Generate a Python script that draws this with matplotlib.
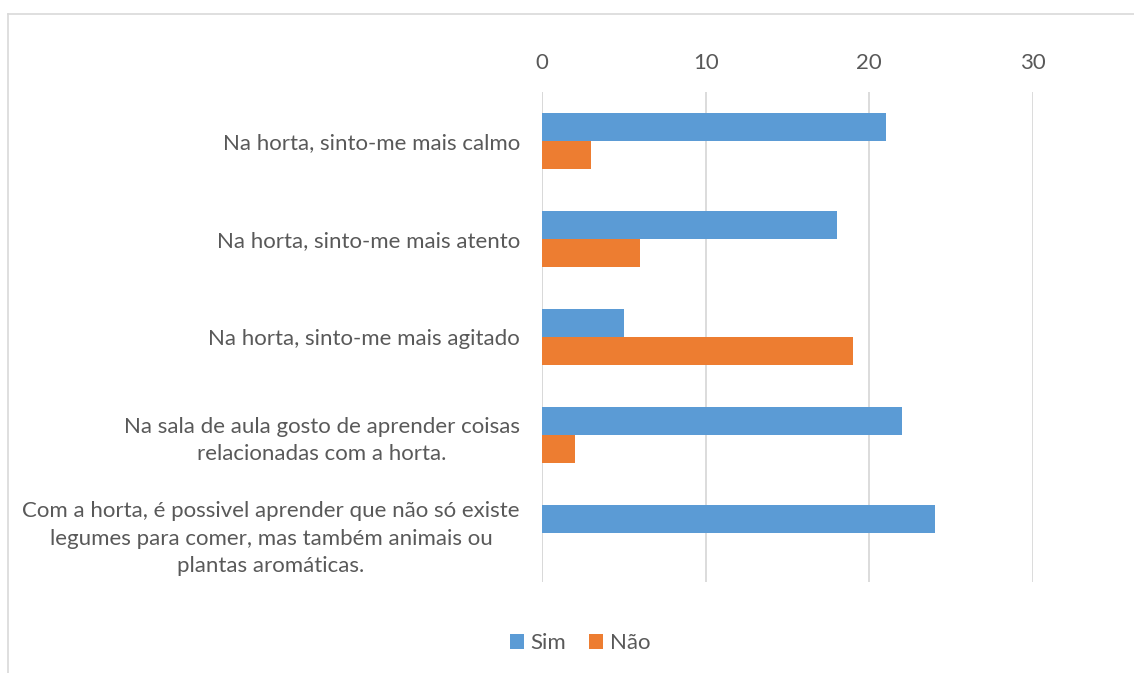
import numpy as np
from matplotlib import pyplot as plt
from matplotlib.lines import Line2D

plt.rcParams['font.family'] = ['Lato', 'DejaVu Sans']

categories = [
    'Na horta, sinto-me mais calmo',
    'Na horta, sinto-me mais atento',
    'Na horta, sinto-me mais agitado',
    'Na sala de aula gosto de aprender coisas\nrelacionadas com a horta.',
    'Com a horta, é possivel aprender que não só existe\nlegumes para comer, mas também animais ou\nplantas aromáticas.',
]
sim = [21, 18, 5, 22, 24]
nao = [3, 6, 19, 2, 0]

blue = '#5B9BD5'
orange = '#ED7D31'
text_color = '#595959'
grid_color = '#D9D9D9'

fig = plt.figure(figsize=(11.34, 6.73), dpi=100)
ax = fig.add_axes([542 / 1134, 1 - 582 / 673, (1033 - 542) / 1134, (582 - 92) / 673])

y = np.arange(len(categories))
h = 0.286
ax.barh(y - h / 2, sim, height=h, color=blue, label='Sim', zorder=3)
ax.barh(y + h / 2, nao, height=h, color=orange, label='Não', zorder=3)

ax.set_ylim(len(categories) - 0.5, -0.5)
ax.set_xlim(0, 30)
ax.set_xticks([0, 10, 20, 30])
ax.xaxis.tick_top()
ax.set_yticks(y)
ax.set_yticklabels(categories)
for lab in ax.get_yticklabels():
    lab.set_multialignment('center')
    lab.set_linespacing(1.45)

ax.tick_params(axis='both', length=0, labelsize=16, colors=text_color)
ax.tick_params(axis='x', pad=14)
ax.tick_params(axis='y', pad=16)
ax.grid(axis='x', color=grid_color, linewidth=1.3, zorder=0)
ax.axvline(0, color=grid_color, linewidth=1.3, zorder=1)
for s in ax.spines.values():
    s.set_visible(False)

fig.legend(loc='center', bbox_to_anchor=(580 / 1134, 1 - 643 / 673), ncol=2,
           frameon=False, fontsize=16, labelcolor=text_color,
           handlelength=0.65, handleheight=0.65, handletextpad=0.3, columnspacing=1.0)

# chart area border (top and left only visible)
fig.add_artist(Line2D([8 / 1134, 1.0], [1 - 14 / 673] * 2, color=grid_color, lw=1.2,
                      transform=fig.transFigure))
fig.add_artist(Line2D([8 / 1134] * 2, [0.0, 1 - 14 / 673], color=grid_color, lw=1.2,
                      transform=fig.transFigure))

fig.savefig('out.png', dpi=100)
